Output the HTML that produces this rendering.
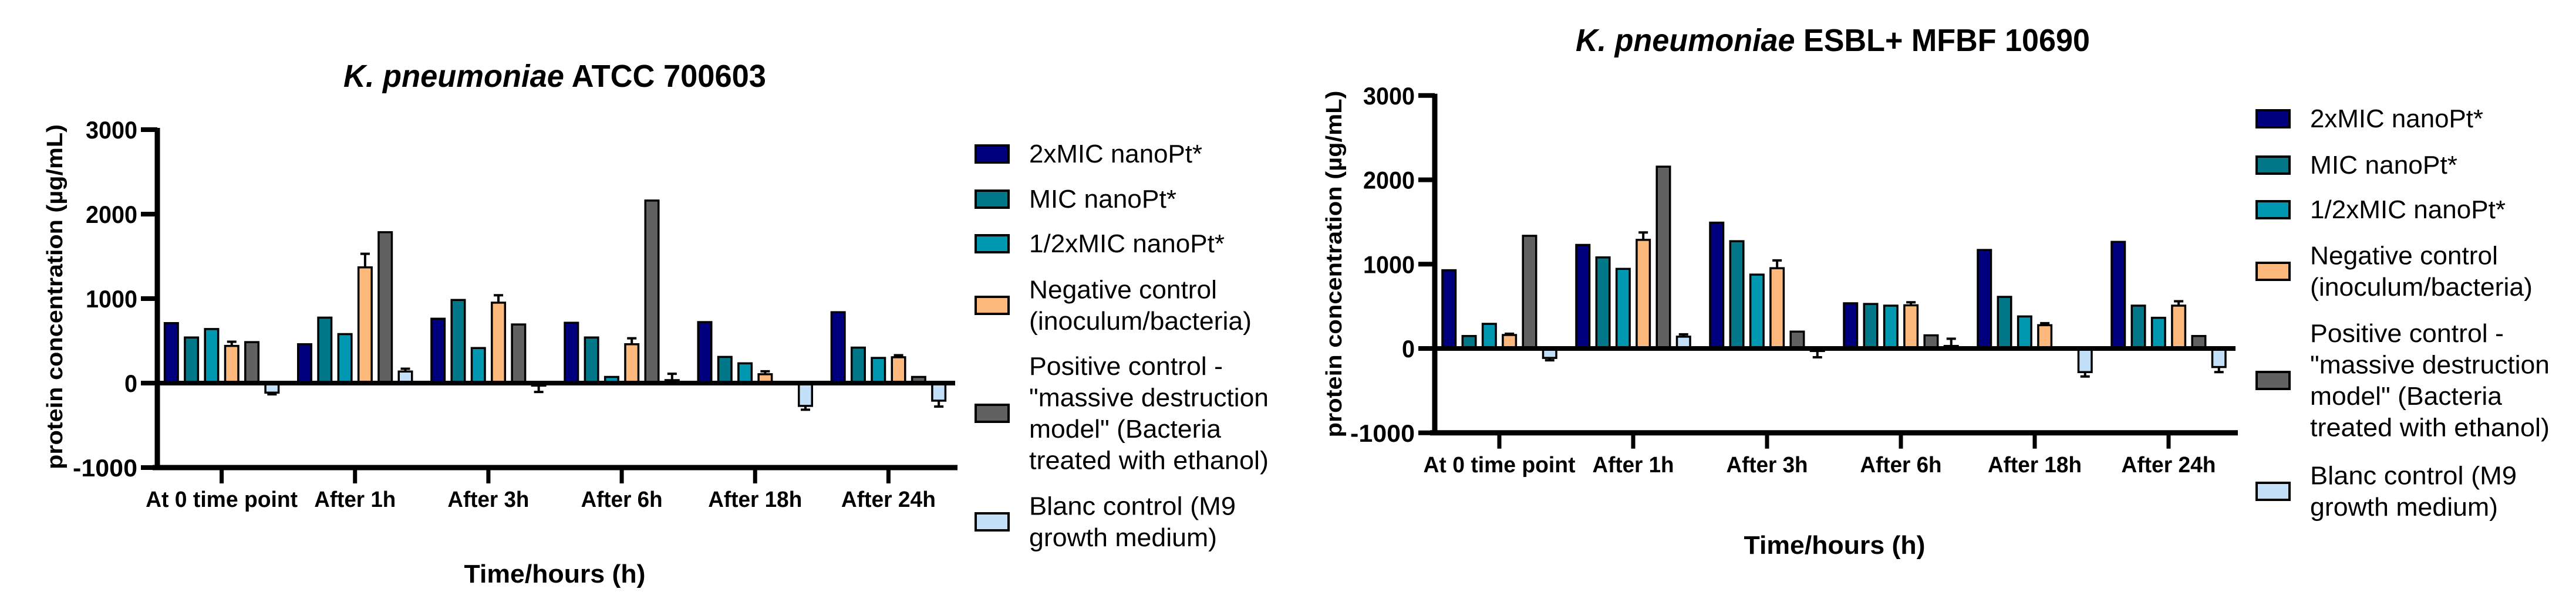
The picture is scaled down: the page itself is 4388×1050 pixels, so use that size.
<!DOCTYPE html>
<html>
<head>
<meta charset="utf-8">
<style>
  html,body{margin:0;padding:0;background:#fff;}
  svg{display:block;}
  text{font-family:"Liberation Sans Narrow","Liberation Sans",sans-serif;fill:#000;}
  .b{font-weight:bold;}
  .yt{font-family:"Liberation Sans",sans-serif;font-weight:bold;}
</style>
</head>
<body>
<svg id="root" width="4388" height="1050" viewBox="0 0 4388 1050" xmlns="http://www.w3.org/2000/svg">
</svg>
<script>
// ---- shared data ----
const categories = ["At 0 time point","After 1h","After 3h","After 6h","After 18h","After 24h"];
const catLabelWidths = [259,139,139,139,160,161];
const seriesNames = ["2xMIC nanoPt*","MIC nanoPt*","1/2xMIC nanoPt*","Negative control","Positive control","Blanc control"];
const seriesColors = ["#00007f","#00788a","#0098b0","#fdb97b","#616161","#c3e0f8"];
const yTicks = [3000,2000,1000,0,-1000];
const yTickLabels = ["3000","2000","1000","0","-1000"];

// ---- chart 1: K. pneumoniae ATCC 700603 ----
const c1_2xMIC  = [710,460,762,714,722,839];
const c1_MIC    = [540,775,984,540,310,420];
const c1_halfMIC= [640,580,415,73,234,298];
const c1_neg    = [440,1370,952,460,105,306];
const c1_negErr = [50,160,88,70,35,24];
const c1_pos    = [485,1786,694,2161,0,73];
const c1_blanc  = [-113,137,-30,35,-270,-208];
const c1_blancErr=[-20,33,-75,75,-45,-70];

// ---- chart 2: K. pneumoniae ESBL+ MFBF 10690 ----
const c2_2xMIC  = [928,1228,1492,536,1168,1264];
const c2_MIC    = [148,1080,1272,528,612,508];
const c2_halfMIC= [292,944,876,508,380,364];
const c2_neg    = [160,1288,952,512,276,508];
const c2_negErr = [15,88,92,36,24,52];
const c2_pos    = [1336,2156,200,156,0,148];
const c2_blanc  = [-112,140,-30,30,-280,-220];
const c2_blancErr=[-28,28,-74,86,-52,-60];

const legendLines = [["2xMIC nanoPt*"],["MIC nanoPt*"],["1/2xMIC nanoPt*"],["Negative control","(inoculum/bacteria)"],["Positive control -","\"massive destruction","model\" (Bacteria","treated with ethanol)"],["Blanc control (M9","growth medium)"]];
const legendLineWidths = [[295],[251],[333],[320,379],[330,408,327,408],[352,320]];

const NS="http://www.w3.org/2000/svg";
const root=document.getElementById('root');
function mk(tag,attrs,parent){const e=document.createElementNS(NS,tag);for(const k in attrs)e.setAttribute(k,attrs[k]);(parent||root).appendChild(e);return e;}

function drawChart(cfg){
  const g=mk('g',{});
  
  
  const y=v=>cfg.zeroY - v*cfg.pxPer;
  const bandW=(cfg.xEnd-cfg.xStart)/categories.length;
  const cx=i=>cfg.xStart+bandW*(i+0.5);
  const pitch=34.3, bw=22.5;
  const t=mk('text',{x:cfg.titleX,y:cfg.titleY,'font-size':54,'text-anchor':'middle',class:'b',textLength:cfg.titleW,lengthAdjust:'spacingAndGlyphs'},g);
  
  
  const ti=mk('tspan',{'font-style':'italic'},t);ti.textContent='K. pneumoniae';
  const tr=mk('tspan',{},t);tr.textContent=' '+cfg.titleRest;
  const series=[cfg.s0,cfg.s1,cfg.s2,cfg.s3,cfg.s4,cfg.s5];
  series.forEach((arr,s)=>{
    arr.forEach((v,i)=>{
      const x=cx(i)+(s-2.5)*pitch-bw/2;
      const y0=y(0), y1=y(v);
      const top=Math.min(y0,y1), h=Math.abs(y1-y0);
      let err=null;
      if(s===3) err=cfg.negErr[i];
      if(s===5) err=cfg.blancErr[i];
      if(err!==null && err!==0){
        const ye=y(v+err);
        const ln=mk('line',{x1:x+bw/2,x2:x+bw/2,y1:y1,y2:ye,stroke:'#000','stroke-width':4},g);
        
        
        const cap=mk('line',{x1:x+bw/2-8,x2:x+bw/2+8,y1:ye,y2:ye,stroke:'#000','stroke-width':4},g);
        
        
      }
      if(h>0.5){
        const r=mk('rect',{x:x,y:top,width:bw,height:h,fill:seriesColors[s],stroke:'#000','stroke-width':3.5},g);
        
        
      }
    });
  });
  const ya=mk('line',{x1:cfg.xStart+4,x2:cfg.xStart+4,y1:y(3000)-3,y2:y(-1000)+4,stroke:'#000','stroke-width':9},g);
  
  
  const zl=mk('line',{x1:cfg.xStart,x2:cfg.xEnd,y1:y(0),y2:y(0),stroke:'#000','stroke-width':8},g);
  
  
  const xa=mk('line',{x1:cfg.xStart-4,x2:cfg.xEnd+4,y1:y(-1000),y2:y(-1000),stroke:'#000','stroke-width':9},g);
  
  
  yTicks.forEach((v,k)=>{
    const tk=mk('line',{x1:cfg.xStart-24,x2:cfg.xStart+4,y1:y(v),y2:y(v),stroke:'#000','stroke-width':8},g);
    
    
    const lbl=yTickLabels[k];
    const lb=mk('text',{x:cfg.xStart-30,y:y(v)+15,'font-size':42,'text-anchor':'end',class:'b',textLength:lbl.length*22,lengthAdjust:'spacingAndGlyphs'},g);
    
    
    lb.textContent=lbl;
  });
  categories.forEach((c,i)=>{
    const tk=mk('line',{x1:cx(i),x2:cx(i),y1:y(-1000),y2:y(-1000)+27,stroke:'#000','stroke-width':7},g);
    
    
    const lb=mk('text',{x:cx(i),y:y(-1000)+67,'font-size':38,'text-anchor':'middle',class:'b',textLength:catLabelWidths[i],lengthAdjust:'spacingAndGlyphs'},g);
    
    
    lb.textContent=c;
  });
  const xt=mk('text',{x:cfg.xTitleX,y:cfg.xTitleY,'font-size':44,'text-anchor':'middle',class:'b',textLength:309,lengthAdjust:'spacingAndGlyphs'},g);
  
  
  xt.textContent='Time/hours (h)';
  const yt=mk('text',{x:0,y:0,'font-size':38,'text-anchor':'middle',class:'yt',textLength:cfg.yTitleLen,lengthAdjust:'spacingAndGlyphs',transform:`translate(${cfg.yTitleX},${cfg.yTitleY}) rotate(-90)`},g);
  
  
  yt.textContent='protein concentration (µg/mL)';
  legendLines.forEach((lines,s)=>{
    const sy=cfg.legendY[s];
    const sw=mk('rect',{x:cfg.legX,y:sy-14,width:56,height:29,fill:seriesColors[s],stroke:'#000','stroke-width':4},g);
    
    
    const n=lines.length;
    lines.forEach((ln,j)=>{
      const ty=sy+(j-(n-1)/2)*53.5+15;
      const tx=mk('text',{x:cfg.legX+91,y:ty,'font-size':44,textLength:legendLineWidths[s][j],lengthAdjust:'spacingAndGlyphs'},g);
      
      
      tx.textContent=ln;
    });
  });
}

drawChart({id:'chart-atcc-700603',zeroY:653,pxPer:0.144,xStart:264,xEnd:1627,
  titleX:945,titleY:148,titleW:720,titleRest:'ATCC 700603',
  xTitleX:945,xTitleY:993,yTitleX:106,yTitleY:506,yTitleLen:588,
  legX:1662,legendY:[262,339,415,520,704,889],
  s0:c1_2xMIC,s1:c1_MIC,s2:c1_halfMIC,s3:c1_neg,s4:c1_pos,s5:c1_blanc,negErr:c1_negErr,blancErr:c1_blancErr});

drawChart({id:'chart-esbl-mfbf-10690',zeroY:594,pxPer:0.14375,xStart:2440,xEnd:3808,
  titleX:3122,titleY:87,titleW:876,titleRest:'ESBL+ MFBF 10690',
  xTitleX:3125,xTitleY:944,yTitleX:2285,yTitleY:450,yTitleLen:591,
  legX:3844,legendY:[202,281,357,462,648,837],
  s0:c2_2xMIC,s1:c2_MIC,s2:c2_halfMIC,s3:c2_neg,s4:c2_pos,s5:c2_blanc,negErr:c2_negErr,blancErr:c2_blancErr});
</script>
</body>
</html>
